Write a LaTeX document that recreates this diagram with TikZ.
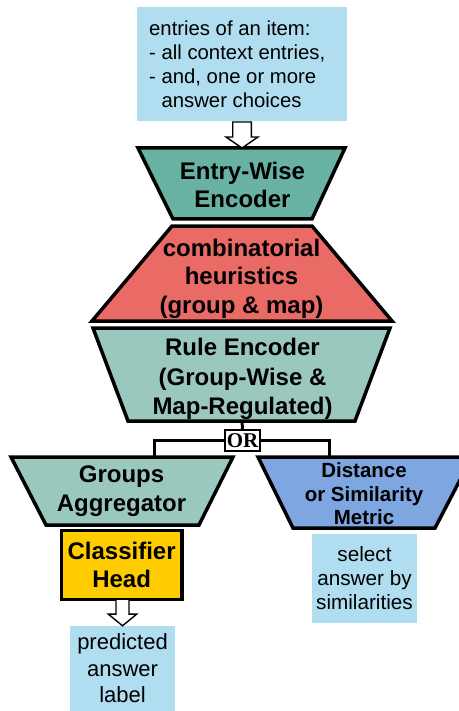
\documentclass[tikz,border=0pt]{standalone}
\usepackage{fontspec}
\setmainfont{Liberation Sans}
\newfontfamily\orfont{Liberation Serif}
\usetikzlibrary{calc}

\definecolor{boxblue}{RGB}{176,221,240}
\definecolor{ewteal}{RGB}{103,178,163}
\definecolor{combred}{RGB}{234,107,102}
\definecolor{ruleteal}{RGB}{154,200,191}
\definecolor{distblue}{RGB}{126,166,224}
\definecolor{headyellow}{RGB}{255,204,0}

\begin{document}
\begin{tikzpicture}[x=1pt,y=-1pt,
  trap/.style={draw=black,line width=3.5pt,line join=miter},
  infobox/.style={fill=boxblue,inner sep=0pt},
  hollowarrow/.style={draw=black,fill=white,line width=1.4pt,line join=miter},
  conn/.style={draw=black,line width=3pt},
  boldlabel/.style={font=\fontsize{24}{28.5}\selectfont\bfseries,align=center,inner sep=0pt},
  plainlabel/.style={font=\fontsize{21.7}{24.3}\selectfont,inner sep=0pt}
]
\useasboundingbox (0,0) rectangle (458,711);

% input box
\node[infobox,minimum width=210pt,minimum height=114pt] (input) at (242,64.5) {};
\node[plainlabel,font=\fontsize{20.3}{24}\selectfont,align=left,anchor=west] (inputtext) at (149,64.3)
  {entries of an item:\\- all context entries,\\- and, one or more\\\phantom{- }answer choices};

% entry-wise encoder
\draw[trap,fill=ewteal] (138,148) -- (345,148) -- (312,219) -- (173,219) -- cycle;
\coordinate (ewTop) at (242,148);
\node[boldlabel] (ew) at (242.5,185) {Entry-Wise\\Encoder};

% arrow input -> entry-wise
\coordinate (a1tip) at (ewTop);
\draw[hollowarrow] (a1tip) -- ++(-16,-11) -- ++(6.7,0) -- ++(0,-15) -- ++(18.6,0) -- ++(0,15) -- ++(6.7,0) -- cycle;

% combinatorial heuristics
\draw[trap,fill=combred] (172,226) -- (312,226) -- (392,321) -- (92,321) -- cycle;
\node[boldlabel] (comb) at (241.5,278.5) {combinatorial\\heuristics\\(group \& map)};

% rule encoder
\draw[trap,fill=ruleteal] (93,328) -- (390,328) -- (355,421) -- (128,421) -- cycle;
\coordinate (ruleBottom) at (242,421);
\node[boldlabel,font=\fontsize{24}{29.8}\selectfont\bfseries] (rule) at (242.5,379) {Rule Encoder\\(Group-Wise \&\\Map-Regulated)};

% OR connectors
\node[draw=black,line width=1.3pt,fill=white,minimum width=35pt,minimum height=21pt,inner sep=0pt,
  font=\orfont\bfseries\fontsize{21}{21}\selectfont] (or) at (242.5,440.5) {OR};
\coordinate (gaTop) at (154,457);
\coordinate (dmTop) at (329,457);
\draw[conn] (ruleBottom) -- (or.north);
\draw[conn] (or.west) -| (gaTop);
\draw[conn] (or.east) -| (dmTop);

% groups aggregator
\draw[trap,fill=ruleteal] (11,457) -- (233,457) -- (199,525) -- (46,525) -- cycle;
\node[boldlabel,font=\fontsize{24}{29}\selectfont\bfseries] (ga) at (121.5,491.5) {Groups\\Aggregator};

% distance metric
\draw[trap,fill=distblue] (258,457) -- (472,457) -- (435,528) -- (293,528) -- cycle;
\node[boldlabel,font=\fontsize{20.5}{23.5}\selectfont\bfseries] (dm) at (364,494) {Distance\\or Similarity\\Metric};

% classifier head
\node[draw=black,line width=3.5pt,fill=headyellow,minimum width=120.7pt,minimum height=69pt,
  boldlabel,font=\fontsize{24}{28}\selectfont\bfseries] (head) at (121.6,564.8) {Classifier\\Head};

% predicted answer label
\node[infobox,plainlabel,align=center,font=\fontsize{22}{26.5}\selectfont,minimum width=105pt,minimum height=85pt] (pred) at (122.5,668.5)
  {predicted\\answer\\label};

% arrow head -> predicted
\coordinate (a2tip) at (pred.north);
\draw[hollowarrow] (a2tip) -- ++(-14.2,-11.7) -- ++(7.7,0) -- ++(0,-15) -- ++(13,0) -- ++(0,15) -- ++(7.7,0) -- cycle;

% select answer by similarities
\node[infobox,plainlabel,align=center,font=\fontsize{20.7}{24}\selectfont,minimum width=105pt,minimum height=89pt] (sel) at (364.5,578.5)
  {select\\answer by\\similarities};
\end{tikzpicture}
\end{document}
